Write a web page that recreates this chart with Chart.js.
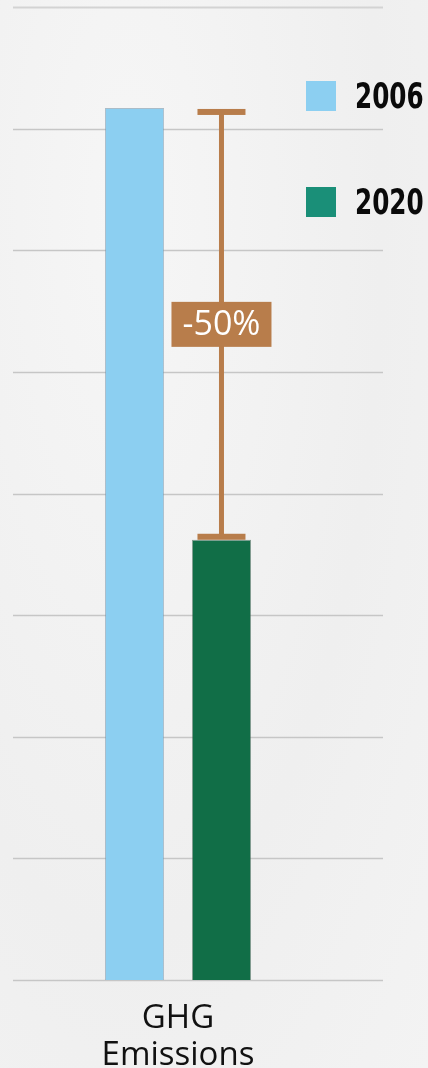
<!DOCTYPE html>
<html>
<head>
<meta charset="utf-8">
<script src="https://cdn.jsdelivr.net/npm/chart.js@4/dist/chart.umd.min.js"></script>
<style>
  html, body { margin: 0; padding: 0; }
  body {
    width: 428px; height: 1068px; overflow: hidden; position: relative;
    background: #f2f2f2;
    background-image: radial-gradient(ellipse at 30% 20%, #f6f6f6 0%, #efefef 60%, #f3f3f3 100%);
  }
  #wrap { position: absolute; left: 0; top: 0; width: 428px; height: 1068px; }
  .legend-item { position: absolute; left: 306px; display: flex; align-items: center; }
  .legend-box { width: 30px; height: 30px; margin-right: 19px; }
  .legend-text {
    font-family: "DejaVu Sans", sans-serif;
    font-weight: bold; font-size: 35px; color: #0a0a0a;
    transform: scaleX(0.705); transform-origin: left center;
  }
</style>
</head>
<body>
<div id="wrap"><canvas id="chart" width="428" height="1068"></canvas></div>
<div id="legend"></div>
<script>
// chart data
const categories = [['GHG', 'Emissions']];
const seriesLabels = ['2006', '2020'];
const values2006 = [7.17];
const values2020 = [3.62];
const barColors = ['#8ccff1', '#116e47'];
const legendColors = ['#8ccff1', '#1a8f78'];
const yMax = 8;
const yStep = 1;

const accent = '#b87d4b';

// grid lines run past the plot area, under the legend
const gridPlugin = {
  id: 'fullGrid',
  beforeDatasetsDraw(chart) {
    const ctx = chart.ctx;
    const y = chart.scales.y;
    ctx.save();
    for (let v = 0; v <= yMax; v += yStep) {
      const py = Math.round(y.getPixelForValue(v)) + 0.5;
      ctx.strokeStyle = v === yMax ? '#d3d3d3' : '#c6c6c6';
      ctx.lineWidth = v === yMax ? 2 : 1.5;
      ctx.beginPath();
      ctx.moveTo(13, py);
      ctx.lineTo(383, py);
      ctx.stroke();
    }
    ctx.restore();
  }
};

// change bracket between the two bars
const changePlugin = {
  id: 'changeBar',
  afterDatasetsDraw(chart) {
    const ctx = chart.ctx;
    const y = chart.scales.y;
    const bar = chart.getDatasetMeta(1).data[0];
    const x = bar.x;
    const top = y.getPixelForValue(values2006[0]) + 4;
    const bottom = y.getPixelForValue(values2020[0]) - 3;
    const capW = 48;

    ctx.save();
    ctx.fillStyle = accent;
    ctx.fillRect(x - 2.5, top, 5, bottom - top);
    ctx.fillRect(x - capW / 2, top - 3, capW, 6);
    ctx.fillRect(x - capW / 2, bottom - 3, capW, 6);

    const pct = Math.round((values2020[0] - values2006[0]) / values2006[0] * 100);
    const text = pct + '%';
    const mid = (top + bottom) / 2;
    const boxW = 100, boxH = 45;
    ctx.fillRect(x - boxW / 2, mid - boxH / 2, boxW, boxH);
    ctx.fillStyle = '#ffffff';
    ctx.font = '34px "Open Sans", "Noto Sans", sans-serif';
    ctx.textAlign = 'center';
    ctx.textBaseline = 'middle';
    ctx.fillText(text, x, mid + 1);
    ctx.restore();
  }
};

const chart = new Chart(document.getElementById('chart'), {
  type: 'bar',
  data: {
    labels: categories,
    datasets: [
      {
        label: seriesLabels[0],
        data: values2006,
        backgroundColor: barColors[0],
        borderColor: 'rgba(120,150,170,0.6)',
        borderWidth: 1
      },
      {
        label: seriesLabels[1],
        data: values2020,
        backgroundColor: barColors[1],
        borderColor: 'rgba(60,100,80,0.6)',
        borderWidth: 1
      }
    ]
  },
  options: {
    responsive: false,
    animation: false,
    datasets: {
      bar: { categoryPercentage: 0.527, barPercentage: 0.68 }
    },
    layout: { padding: { left: 13, right: 85, top: 7, bottom: -18 } },
    plugins: {
      legend: { display: false },
      tooltip: { enabled: false }
    },
    scales: {
      x: {
        grid: { display: false },
        border: { display: false },
        ticks: {
          color: '#111111',
          padding: 12,
          font: { family: '"Open Sans", "Noto Sans", sans-serif', size: 33, lineHeight: 1.12 }
        }
      },
      y: {
        display: false,
        min: 0,
        max: yMax,
        ticks: { stepSize: yStep }
      }
    }
  },
  plugins: [gridPlugin, changePlugin]
});

// legend
const legend = document.getElementById('legend');
const legendTops = [76, 182];
seriesLabels.forEach((name, i) => {
  const item = document.createElement('div');
  item.className = 'legend-item';
  item.style.top = legendTops[i] + 'px';
  item.innerHTML = `<div class="legend-box" style="background:${legendColors[i]}"></div>` +
    `<div class="legend-text">${name}</div>`;
  legend.appendChild(item);
});
</script>
</body>
</html>
